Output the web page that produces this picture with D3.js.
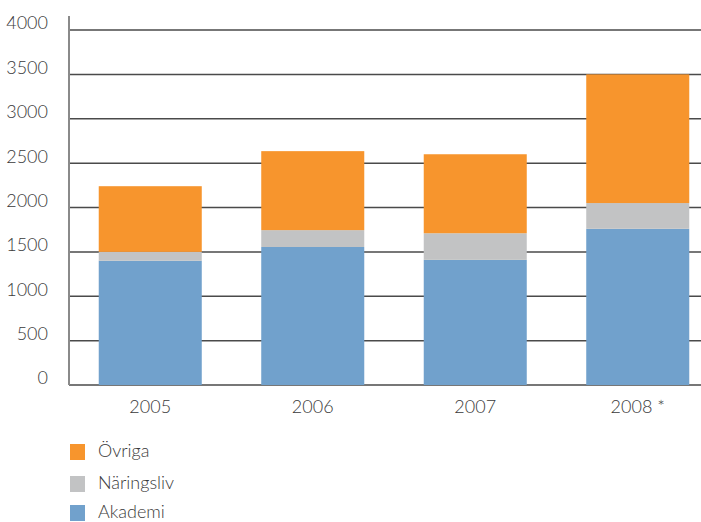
<!DOCTYPE html>
<html lang="sv">
<head>
    <meta charset="UTF-8" />
    <title>Chart</title>
    <script src="https://d3js.org/d3.v7.min.js"></script>
    <style>
        body { margin: 0; background: #fff; }
        text { font-family: Lato, "Open Sans", sans-serif; font-weight: 300; fill: #3a3a3a; }
    </style>
</head>
<body>
    <div class="canvas"></div>

    <script>
        // data
        const years = ["2005", "2006", "2007", "2008 *"];
        const akademi = [1400, 1555, 1410, 1760];
        const naringsliv = [100, 190, 300, 290];
        const ovriga = [740, 890, 890, 1450];
        const yTicks = [0, 500, 1000, 1500, 2000, 2500, 3000, 3500, 4000];
        const seriesNames = ["Akademi", "Näringsliv", "Övriga"];
        const seriesColors = ["#71a1cc", "#c2c3c4", "#f7952d"];

        const width = 701, height = 522;
        const svg = d3.select(".canvas").append("svg")
            .attr("width", width).attr("height", height);

        const x = d3.scaleBand()
            .domain(years)
            .range([69, 719])
            .paddingInner(0.366)
            .paddingOuter(0.183);

        const y = d3.scaleLinear()
            .domain([0, 4000])
            .range([385, 30]);

        // gridlines
        svg.append("g").selectAll("line").data(yTicks).join("line")
            .attr("x1", 69).attr("x2", width)
            .attr("y1", d => y(d)).attr("y2", d => y(d))
            .attr("stroke", "#4a4a4a").attr("stroke-width", 1.5);

        // y axis line
        svg.append("line")
            .attr("x1", 69).attr("x2", 69)
            .attr("y1", 16).attr("y2", y(0))
            .attr("stroke", "#8a8a8a").attr("stroke-width", 2);

        // y tick labels
        svg.append("g").selectAll("text").data(yTicks).join("text")
            .attr("x", 48).attr("y", d => y(d) - 5)
            .attr("text-anchor", "end")
            .attr("dominant-baseline", "middle")
            .attr("font-size", 18)
            .text(d => d);

        // stacked bars
        const rows = years.map((yr, i) => ({ year: yr, Akademi: akademi[i], "Näringsliv": naringsliv[i], "Övriga": ovriga[i] }));
        const stack = d3.stack().keys(seriesNames)(rows);

        svg.append("g").selectAll("g").data(stack).join("g")
            .attr("fill", (d, i) => seriesColors[i])
            .selectAll("rect").data(d => d).join("rect")
            .attr("x", d => x(d.data.year))
            .attr("width", x.bandwidth())
            .attr("y", d => y(d[1]))
            .attr("height", d => y(d[0]) - y(d[1]));

        // x labels
        svg.append("g").selectAll("text").data(years).join("text")
            .attr("x", d => x(d) + x.bandwidth() / 2)
            .attr("y", 409)
            .attr("text-anchor", "middle")
            .attr("dominant-baseline", "middle")
            .attr("font-size", 18)
            .text(d => d);

        // legend
        const legendOrder = [2, 1, 0];
        const legendY = [444, 476, 505];
        const legend = svg.append("g").selectAll("g").data(legendOrder).join("g")
            .attr("transform", (d, i) => `translate(70, ${legendY[i]})`);
        legend.append("rect")
            .attr("width", 15).attr("height", 16)
            .attr("fill", d => seriesColors[d]);
        legend.append("text")
            .attr("x", 28).attr("y", 9)
            .attr("dominant-baseline", "middle")
            .attr("font-size", 18)
            .text(d => seriesNames[d]);
    </script>
</body>
</html>
